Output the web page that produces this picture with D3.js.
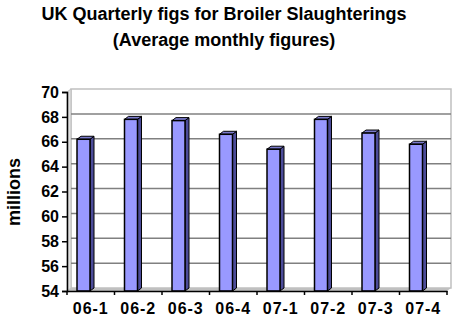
<!DOCTYPE html>
<html>
<head>
<meta charset="utf-8">
<script src="https://cdn.jsdelivr.net/npm/d3@7"></script>
<style>
  body { margin: 0; background: #fff; }
  text { font-family: Arial, "Liberation Sans", sans-serif; font-weight: bold; }
</style>
</head>
<body>
<div id="chart"></div>
<script>
// data
var quarters = ["06-1", "06-2", "06-3", "06-4", "07-1", "07-2", "07-3", "07-4"];
var millions = [66.2, 67.8, 67.7, 66.6, 65.4, 67.8, 66.7, 65.8];
var yTicks = [54, 56, 58, 60, 62, 64, 66, 68, 70];

var W = 455, H = 323;
var pLeft = 67, pRight = 447, pTop = 92, pBottom = 291;
var dx = 4, dy = -3; // 3d depth

var svg = d3.select("#chart").append("svg")
    .attr("width", W)
    .attr("height", H);

var x = d3.scaleBand()
    .domain(quarters)
    .range([pLeft, pRight]);

var y = d3.scaleLinear()
    .domain([54, 70])
    .range([pBottom, pTop]);

// title
svg.append("text")
    .attr("x", 224).attr("y", 20)
    .attr("text-anchor", "middle")
    .attr("font-size", 18)
    .text("UK Quarterly figs for Broiler Slaughterings");
svg.append("text")
    .attr("x", 224).attr("y", 46)
    .attr("text-anchor", "middle")
    .attr("font-size", 18)
    .text("(Average monthly figures)");

// walls and floor
svg.append("polygon")
    .attr("points", [[pLeft + dx, pTop + dy], [pRight + dx, pTop + dy], [pRight + dx, pBottom + dy], [pLeft + dx, pBottom + dy]].join(" "))
    .attr("fill", "#fff")
    .attr("stroke", "#c0c0c0")
    .attr("stroke-width", 1.5);
svg.append("polygon")
    .attr("points", [[pLeft, pBottom], [pRight, pBottom], [pRight + dx, pBottom + dy], [pLeft + dx, pBottom + dy]].join(" "))
    .attr("fill", "#c0c0c0");
svg.append("polygon")
    .attr("points", [[pLeft, pTop], [pLeft + dx, pTop + dy], [pLeft + dx, pBottom + dy], [pLeft, pBottom]].join(" "))
    .attr("fill", "#e0e0e0")
    .attr("stroke", "#c0c0c0");

// gridlines on the back wall
svg.append("g")
  .selectAll("line")
  .data(yTicks.slice(1, -1))
  .enter().append("line")
    .attr("x1", pLeft + dx)
    .attr("x2", pRight + dx)
    .attr("y1", function(d) { return y(d) + dy; })
    .attr("y2", function(d) { return y(d) + dy; })
    .attr("stroke", "#808080")
    .attr("stroke-width", 1.5);

// bars
var bw = 13, off = 10;
var bars = svg.append("g")
  .selectAll("g")
  .data(quarters)
  .enter().append("g");

bars.append("polygon")
    .attr("points", function(d, i) {
      var x0 = x(d) + off, yv = y(millions[i]);
      return [[x0 + bw, yv], [x0 + bw + dx, yv + dy], [x0 + bw + dx, pBottom + dy], [x0 + bw, pBottom]].join(" ");
    })
    .attr("fill", "#4c4c99")
    .attr("stroke", "#000")
    .attr("stroke-width", 1);

bars.append("polygon")
    .attr("points", function(d, i) {
      var x0 = x(d) + off, yv = y(millions[i]);
      return [[x0, yv], [x0 + dx, yv + dy], [x0 + bw + dx, yv + dy], [x0 + bw, yv]].join(" ");
    })
    .attr("fill", "#7a7acc")
    .attr("stroke", "#000")
    .attr("stroke-width", 1);

bars.append("rect")
    .attr("x", function(d) { return x(d) + off; })
    .attr("y", function(d, i) { return y(millions[i]); })
    .attr("width", bw)
    .attr("height", function(d, i) { return pBottom - y(millions[i]); })
    .attr("fill", "#9999ff")
    .attr("stroke", "#000")
    .attr("stroke-width", 1.5);

// y axis
var yAxis = svg.append("g")
    .attr("transform", "translate(" + pLeft + ",0)")
    .call(d3.axisLeft(y).tickValues(yTicks).tickSize(5).tickPadding(3));
yAxis.select(".domain").attr("stroke", "#000").attr("stroke-width", 1.5);
yAxis.selectAll(".tick line").attr("stroke", "#000").attr("stroke-width", 1.5);
yAxis.selectAll("text")
    .attr("font-size", 16)
    .attr("fill", "#000")
    .attr("font-family", "Arial, 'Liberation Sans', sans-serif")
    .attr("font-weight", "bold");

// x axis
var xAxis = svg.append("g")
    .attr("transform", "translate(0," + pBottom + ")")
    .call(d3.axisBottom(x).tickSize(0).tickPadding(12));
xAxis.select(".domain").attr("stroke", "#000").attr("stroke-width", 1.5);
xAxis.selectAll("text")
    .attr("font-size", 16)
    .attr("letter-spacing", 1)
    .attr("fill", "#000")
    .attr("font-family", "Arial, 'Liberation Sans', sans-serif")
    .attr("font-weight", "bold");
xAxis.append("g")
  .selectAll("line")
  .data(quarters.concat([null]))
  .enter().append("line")
    .attr("x1", function(d) { return d === null ? pRight : x(d); })
    .attr("x2", function(d) { return d === null ? pRight : x(d); })
    .attr("y1", 0)
    .attr("y2", 4)
    .attr("stroke", "#000")
    .attr("stroke-width", 1.5);

// y label
svg.append("text")
    .attr("transform", "translate(20,192) rotate(-90)")
    .attr("text-anchor", "middle")
    .attr("font-size", 18)
    .text("millions");
</script>
</body>
</html>
